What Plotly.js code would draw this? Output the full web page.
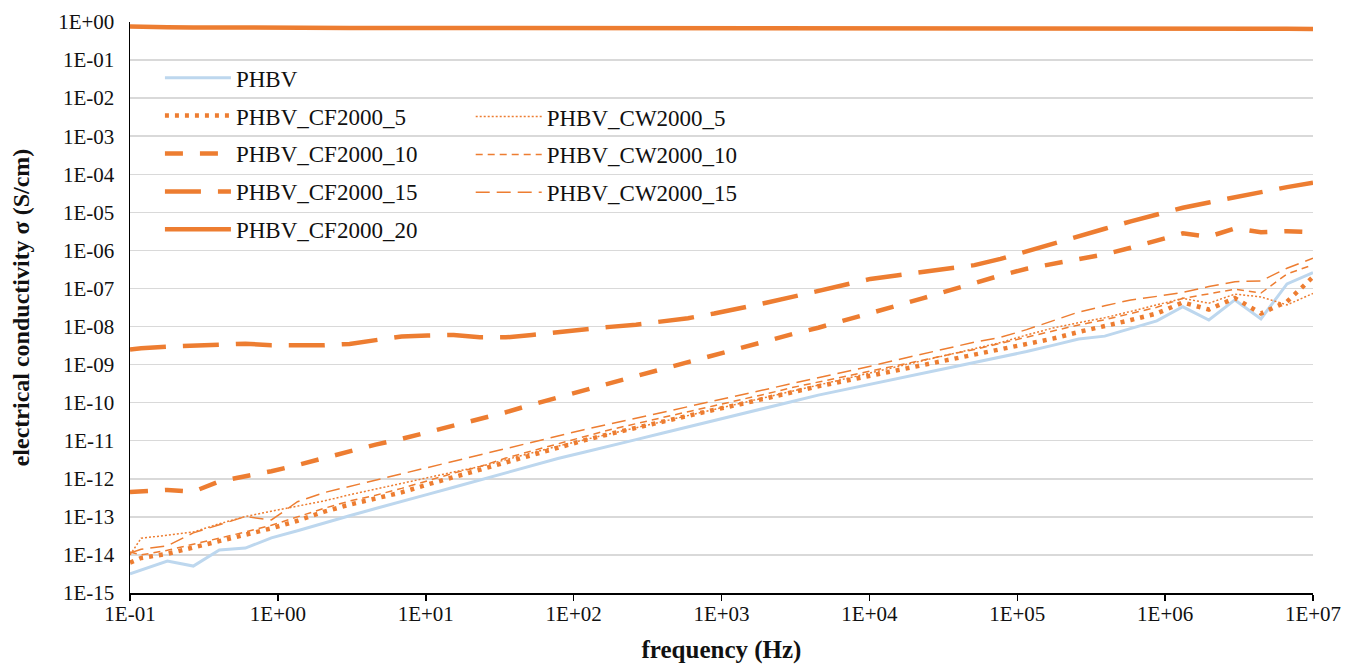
<!DOCTYPE html>
<html>
<head>
<meta charset="utf-8">
<script src="https://cdn.plot.ly/plotly-3.0.1.min.js"></script>
<style>
  html, body { margin: 0; padding: 0; background: #ffffff; }
  #chart { width: 1356px; height: 664px; }
</style>
</head>
<body>
<div id="chart"></div>
<script>
// frequency (Hz)
var freq = [0.1, 0.119, 0.179, 0.268, 0.402, 0.603, 0.904, 1.357, 2.035, 3.053, 4.58, 6.87,
  10.30, 15.45, 23.2, 34.8, 52.2, 78.2, 117.4, 176.1, 264, 396, 594, 892,
  1337, 2006, 3009, 4513, 6770, 10155, 15232, 22848, 34272, 51408, 77112,
  115668, 173502, 260253, 390380, 585570, 878355, 1317532, 1976299, 2964448,
  4446672, 6670008, 10000000];

// electrical conductivity (S/cm)
var PHBV = [3.2e-15, 4.0e-15, 6.9e-15, 5.1e-15, 1.35e-14, 1.51e-14, 2.8e-14, 4.3e-14, 6.9e-14,
  1.07e-13, 1.66e-13, 2.5e-13, 3.9e-13, 6.0e-13, 9.3e-13, 1.41e-12, 2.2e-12, 3.4e-12,
  5.0e-12, 7.2e-12, 1.07e-11, 1.58e-11, 2.3e-11, 3.4e-11, 5.0e-11, 7.2e-11, 1.07e-10,
  1.58e-10, 2.2e-10, 3.0e-10, 4.3e-10, 5.9e-10, 8.1e-10, 1.15e-9, 1.62e-9, 2.2e-9,
  3.2e-9, 4.7e-9, 5.6e-9, 8.9e-9, 1.41e-8, 3.3e-8, 1.48e-8, 5.0e-8, 1.58e-8, 1.32e-7, 2.6e-7];

var CF2000_5 = [6.3e-15, 8.3e-15, 1.07e-14, 1.58e-14, 2.2e-14, 3.3e-14, 5.0e-14, 7.9e-14, 1.35e-13,
  2.1e-13, 3.0e-13, 4.4e-13, 7.1e-13, 1.12e-12, 1.70e-12, 2.75e-12, 4.3e-12, 6.6e-12,
  1.02e-11, 1.51e-11, 2.2e-11, 3.2e-11, 4.5e-11, 6.5e-11, 9.1e-11, 1.32e-10, 1.91e-10,
  2.7e-10, 3.7e-10, 5.1e-10, 7.1e-10, 9.8e-10, 1.38e-9, 1.91e-9, 2.6e-9, 3.6e-9,
  4.8e-9, 7.2e-9, 1.0e-8, 1.48e-8, 2.2e-8, 4.3e-8, 2.8e-8, 5.6e-8, 2.2e-8, 4.5e-8, 2.0e-7];

var CW2000_5 = [1.0e-14, 2.75e-14, 3.3e-14, 4.0e-14, 6.6e-14, 1.02e-13, 1.41e-13, 1.91e-13, 2.6e-13,
  3.8e-13, 5.4e-13, 7.6e-13, 1.07e-12, 1.51e-12, 2.1e-12, 3.2e-12, 4.8e-12, 7.2e-12,
  1.05e-11, 1.51e-11, 2.2e-11, 3.2e-11, 4.6e-11, 6.6e-11, 9.5e-11, 1.38e-10, 2.0e-10,
  2.9e-10, 4.2e-10, 6.0e-10, 8.7e-10, 1.26e-9, 1.82e-9, 2.6e-9, 3.8e-9, 6.0e-9,
  9.1e-9, 1.26e-8, 1.70e-8, 2.5e-8, 3.7e-8, 5.5e-8, 4.1e-8, 7.1e-8, 6.0e-8, 3.7e-8, 7.4e-8];

var CF2000_10 = [4.5e-13, 4.6e-13, 5.1e-13, 4.6e-13, 8.5e-13, 1.17e-12, 1.58e-12, 2.3e-12, 3.5e-12,
  5.2e-12, 7.9e-12, 1.12e-11, 1.66e-11, 2.5e-11, 3.7e-11, 5.6e-11, 8.9e-11, 1.38e-10,
  2.2e-10, 3.3e-10, 5.0e-10, 7.6e-10, 1.17e-9, 1.78e-9, 2.7e-9, 4.2e-9, 6.3e-9,
  9.3e-9, 1.48e-8, 2.3e-8, 3.5e-8, 5.5e-8, 8.9e-8, 1.38e-7, 2.2e-7, 3.3e-7,
  4.4e-7, 6.0e-7, 7.9e-7, 1.17e-6, 1.78e-6, 2.8e-6, 2.3e-6, 3.8e-6, 3.0e-6, 3.2e-6, 3.0e-6];

var CW2000_10 = [1.2e-14, 1.0e-14, 1.32e-14, 1.91e-14, 2.7e-14, 4.0e-14, 6.0e-14, 1.0e-13, 1.66e-13,
  2.6e-13, 3.7e-13, 5.6e-13, 8.9e-13, 1.41e-12, 2.1e-12, 3.5e-12, 5.4e-12, 8.3e-12,
  1.29e-11, 1.95e-11, 2.8e-11, 4.1e-11, 5.8e-11, 8.3e-11, 1.17e-10, 1.70e-10, 2.5e-10,
  3.5e-10, 4.9e-10, 6.8e-10, 9.3e-10, 1.29e-9, 1.82e-9, 2.5e-9, 3.6e-9, 5.2e-9,
  7.6e-9, 1.10e-8, 1.51e-8, 2.2e-8, 3.2e-8, 5.5e-8, 7.2e-8, 9.5e-8, 7.6e-8, 2.4e-7, 4.2e-7];

var CF2000_15 = [2.5e-9, 2.7e-9, 2.95e-9, 3.2e-9, 3.5e-9, 3.55e-9, 3.2e-9, 3.1e-9, 3.2e-9,
  3.5e-9, 4.5e-9, 5.5e-9, 5.8e-9, 6.0e-9, 5.2e-9, 5.2e-9, 6.0e-9, 7.2e-9,
  8.1e-9, 9.8e-9, 1.12e-8, 1.32e-8, 1.66e-8, 2.2e-8, 3.0e-8, 4.2e-8, 6.0e-8,
  8.7e-8, 1.29e-7, 1.78e-7, 2.2e-7, 2.7e-7, 3.2e-7, 4.1e-7, 6.0e-7, 9.3e-7,
  1.45e-6, 2.3e-6, 3.7e-6, 5.8e-6, 8.9e-6, 1.32e-5, 1.82e-5, 2.5e-5, 3.4e-5, 4.6e-5, 6.0e-5];

var CW2000_15 = [1.12e-14, 1.41e-14, 1.74e-14, 3.8e-14, 6.2e-14, 1.02e-13, 8.3e-14, 2.5e-13, 4.3e-13,
  6.3e-13, 9.3e-13, 1.35e-12, 2.0e-12, 2.9e-12, 4.3e-12, 6.2e-12, 9.1e-12, 1.35e-11,
  1.95e-11, 2.75e-11, 3.9e-11, 5.5e-11, 7.8e-11, 1.10e-10, 1.55e-10, 2.2e-10, 3.1e-10,
  4.4e-10, 6.3e-10, 9.1e-10, 1.32e-9, 1.91e-9, 2.7e-9, 3.9e-9, 5.2e-9, 8.3e-9,
  1.41e-8, 2.4e-8, 3.5e-8, 5.0e-8, 6.2e-8, 7.9e-8, 1.12e-7, 1.51e-7, 1.58e-7, 3.4e-7, 6.2e-7];

var CF2000_20 = [0.76, 0.74, 0.73, 0.72, 0.71, 0.70, 0.70, 0.70, 0.70, 0.70, 0.70, 0.70,
  0.70, 0.70, 0.70, 0.70, 0.70, 0.70, 0.70, 0.70, 0.70, 0.70, 0.70, 0.70,
  0.69, 0.69, 0.69, 0.69, 0.69, 0.69, 0.69, 0.69, 0.69, 0.69, 0.69, 0.69,
  0.68, 0.68, 0.68, 0.68, 0.68, 0.68, 0.67, 0.67, 0.66, 0.66, 0.65];

var seriesNames = ['PHBV', 'PHBV_CF2000_5', 'PHBV_CW2000_5', 'PHBV_CF2000_10', 'PHBV_CW2000_10',
  'PHBV_CF2000_15', 'PHBV_CW2000_15', 'PHBV_CF2000_20'];

var yTickVals = [1e0, 1e-1, 1e-2, 1e-3, 1e-4, 1e-5, 1e-6, 1e-7, 1e-8, 1e-9, 1e-10, 1e-11, 1e-12, 1e-13, 1e-14, 1e-15];
var yTickText = ['1E+00', '1E-01', '1E-02', '1E-03', '1E-04', '1E-05', '1E-06', '1E-07', '1E-08', '1E-09',
  '1E-10', '1E-11', '1E-12', '1E-13', '1E-14', '1E-15'];
var xTickVals = [1e-1, 1e0, 1e1, 1e2, 1e3, 1e4, 1e5, 1e6, 1e7];
var xTickText = ['1E-01', '1E+00', '1E+01', '1E+02', '1E+03', '1E+04', '1E+05', '1E+06', '1E+07'];

var ORANGE = '#ED7D31';
var BLUE = '#BDD7EE';
var FONT = 'Liberation Serif, Times New Roman, serif';

function tr(name, y, color, width, dash, legend, order) {
  return {
    x: freq, y: y, name: name, type: 'scatter', mode: 'lines',
    line: {color: color, width: width, dash: dash},
    legend: legend, legendgroup: name, legendrank: order,
    hoverinfo: 'skip'
  };
}

var data = [
  tr(seriesNames[0], PHBV, BLUE, 3, 'solid', 'legend', 1),
  tr(seriesNames[1], CF2000_5, ORANGE, 4.5, '4px,6px', 'legend', 2),
  tr(seriesNames[2], CW2000_5, ORANGE, 1.5, '2px,2px', 'legend2', 1),
  tr(seriesNames[3], CF2000_10, ORANGE, 4.5, '18px,17px', 'legend', 3),
  tr(seriesNames[4], CW2000_10, ORANGE, 1.5, '7px,5px', 'legend2', 2),
  tr(seriesNames[5], CF2000_15, ORANGE, 4.5, '36px,17px', 'legend', 4),
  tr(seriesNames[6], CW2000_15, ORANGE, 1.5, '14px,7px', 'legend2', 3),
  tr(seriesNames[7], CF2000_20, ORANGE, 4.5, 'solid', 'legend', 5)
];

var legendCommon = {
  xanchor: 'left', yanchor: 'top', orientation: 'v',
  bgcolor: 'rgba(0,0,0,0)', borderwidth: 0,
  font: {family: FONT, size: 23, color: '#111111'},
  itemwidth: 66, traceorder: 'grouped', tracegroupgap: 5
};

var layout = {
  width: 1356, height: 664,
  margin: {l: 130, r: 43, t: 22, b: 71, autoexpand: false},
  paper_bgcolor: '#ffffff', plot_bgcolor: '#ffffff',
  font: {family: FONT, size: 21, color: '#111111'},
  showlegend: true,
  legend: Object.assign({}, legendCommon, {x: 0.0253, y: 0.940}),
  legend2: Object.assign({}, legendCommon, {x: 0.288, y: 0.872}),
  xaxis: {
    type: 'log', range: [-1, 7], autorange: false,
    tickvals: xTickVals, ticktext: xTickText,
    ticks: 'outside', ticklen: 6, tickwidth: 1.5, tickcolor: '#000000',
    ticklabelstandoff: -5,
    showline: true, linecolor: '#000000', linewidth: 1.5,
    showgrid: false, zeroline: false,
    tickfont: {family: FONT, size: 21, color: '#111111'},
    title: {text: 'frequency (Hz)', font: {family: FONT, size: 25, color: '#111111', weight: 'bold'}, standoff: 18},
    automargin: false
  },
  yaxis: {
    type: 'log', range: [-15, 0], autorange: false,
    tickvals: yTickVals, ticktext: yTickText,
    ticks: '', ticklabelstandoff: 10,
    showline: true, linecolor: '#000000', linewidth: 1.5,
    showgrid: true, gridcolor: '#D9D9D9', gridwidth: 1.5,
    zeroline: false,
    tickfont: {family: FONT, size: 21, color: '#111111'},
    title: {text: 'electrical conductivity σ (S/cm)', font: {family: FONT, size: 24, color: '#111111', weight: 'bold'}, standoff: 21},
    automargin: false
  }
};

Plotly.newPlot('chart', data, layout, {staticPlot: true, displayModeBar: false});
</script>
</body>
</html>
